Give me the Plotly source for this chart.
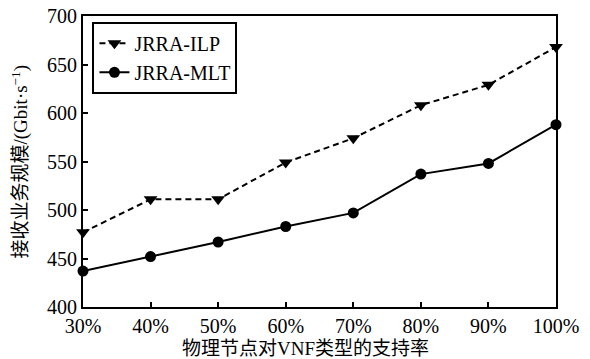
import plotly.graph_objects as go

# Support ratio of physical nodes for VNF types
support_ratio = ["30%", "40%", "50%", "60%", "70%", "80%", "90%", "100%"]
x_pos = [30, 40, 50, 60, 70, 80, 90, 100]

# Accepted service volume (Gbit/s)
jrra_ilp = [477, 511, 511, 549, 574, 608, 629, 668]
jrra_mlt = [437, 452, 467, 483, 497, 537, 548, 588]

y_ticks = [400, 450, 500, 550, 600, 650, 700]

FONT = "Liberation Serif, Times New Roman, Noto Sans CJK SC, serif"

fig = go.Figure()
fig.add_trace(go.Scatter(
    x=x_pos, y=jrra_ilp, name="JRRA-ILP", mode="lines+markers",
    line=dict(color="black", width=2, dash="6px,4px"),
    marker=dict(symbol="triangle-down", size=12, color="black"),
    cliponaxis=False,
))
fig.add_trace(go.Scatter(
    x=x_pos, y=jrra_mlt, name="JRRA-MLT", mode="lines+markers",
    line=dict(color="black", width=2),
    marker=dict(symbol="circle", size=11, color="black"),
    cliponaxis=False,
))

fig.update_layout(
    width=590, height=359,
    margin=dict(l=83, r=34, t=16, b=52),
    paper_bgcolor="white", plot_bgcolor="white",
    font=dict(family=FONT, size=20, color="black"),
    showlegend=True,
    legend=dict(
        x=0.02, y=0.98, xanchor="left", yanchor="top",
        bgcolor="white", bordercolor="black", borderwidth=2,
        font=dict(size=20), tracegroupgap=0, itemwidth=30,
    ),
    xaxis=dict(
        range=[30, 100], tickmode="array", tickvals=x_pos, ticktext=support_ratio,
        ticks="inside", ticklen=5, tickwidth=2, tickcolor="black",
        showline=True, linecolor="black", linewidth=2, mirror=True,
        showgrid=False, zeroline=False, automargin=False,
    ),
    yaxis=dict(
        range=[400, 700], tickmode="array", tickvals=y_ticks,
        ticks="inside", ticklen=5, tickwidth=2, tickcolor="black",
        showline=True, linecolor="black", linewidth=2, mirror=True,
        showgrid=False, zeroline=False, automargin=False,
    ),
    annotations=[
        dict(text="物理节点对VNF类型的支持率", xref="paper", yref="paper",
             x=0.47, y=0, yshift=-41, xanchor="center", yanchor="middle",
             showarrow=False, font=dict(size=19)),
        dict(text="接收业务规模/(Gbit·s<sup>−1</sup>)", xref="paper", yref="paper",
             x=0, xshift=-63, y=0.5, xanchor="center", yanchor="middle",
             textangle=-90, showarrow=False, font=dict(size=19)),
    ],
)

fig.write_html("out.html")
